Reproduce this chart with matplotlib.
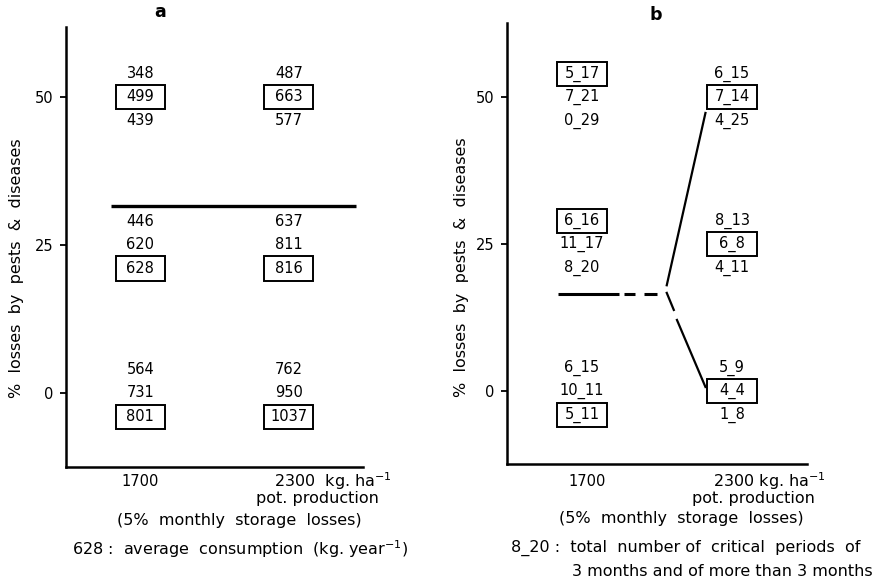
import numpy as np
import matplotlib.pyplot as plt
from matplotlib.patches import Rectangle

plt.rcParams['font.family'] = 'DejaVu Sans'

W, H = 888, 584

# column positions (1700 and 2300 kg/ha) and the three loss levels
cols = [0, 1]
levels = [50, 25, 0]
step = 4.0   # spacing between the three rows of a group

# panel a: average consumption, rows top/middle/bottom per loss level
a_1700 = [[348, 499, 439], [446, 620, 628], [564, 731, 801]]
a_2300 = [[487, 663, 577], [637, 811, 816], [762, 950, 1037]]
a_box_1700 = [1, 2, 2]
a_box_2300 = [1, 2, 2]
a_line_x = [-0.2, 1.45]
a_line_y = [31.6, 31.6]

# panel b: critical periods (3 months _ more than 3 months)
b_1700 = [["5_17", "7_21", "0_29"], ["6_16", "11_17", "8_20"], ["6_15", "10_11", "5_11"]]
b_2300 = [["6_15", "7_14", "4_25"], ["8_13", "6_8", "4_11"], ["5_9", "4_4", "1_8"]]
b_box_1700 = [0, 0, 2]
b_box_2300 = [1, 1, 1]

# boundary line in b
b_solid_x = [-0.16, 0.245]
b_solid_y = [16.5, 16.5]
b_dashes = [([0.28, 0.35], [16.5, 16.5]), ([0.415, 0.50], [16.5, 16.5])]
b_up_x = [0.565, 0.823]
b_up_y = [18.0, 47.3]
b_down = [([0.565, 0.612], [16.7, 13.8]), ([0.633, 0.823], [12.1, 0.7])]

fig = plt.figure(figsize=(W / 100, H / 100), dpi=100)
fig.patch.set_facecolor('white')


def px(x, y):
    return x / W, 1 - y / H


def axes_px(l, t, r, b):
    return fig.add_axes([l / W, 1 - b / H, (r - l) / W, (b - t) / H])


def ftext(x, y, s, **kw):
    fx, fy = px(x, y)
    kw.setdefault('va', 'center')
    kw.setdefault('fontsize', 10)
    fig.text(fx, fy, s, **kw)


def style(ax, ylim):
    ax.set_xlim(-0.5, 1.5)
    ax.set_ylim(*ylim)
    for s in ['top', 'right']:
        ax.spines[s].set_visible(False)
    for s in ['left', 'bottom']:
        ax.spines[s].set_linewidth(1.8)
    ax.set_xticks([])
    ax.set_yticks(levels)
    ax.set_yticklabels([str(v) for v in levels])
    ax.tick_params(axis='y', direction='out', length=4, width=1.3,
                   pad=5, labelsize=10.5)


def column(ax, x, groups, boxed):
    for g, lev in enumerate(levels):
        rows = [lev + step, lev, lev - step]
        for i, (val, yy) in enumerate(zip(groups[g], rows)):
            ax.text(x, yy, str(val), ha='center', va='center', fontsize=10.5)
            if i == boxed[g]:
                ax.add_patch(Rectangle((x - 0.165, yy - 2.05), 0.33, 4.1,
                                       fill=False, lw=1.4, ec='black'))


# panel a
ax1 = axes_px(66, 27, 363, 467)
style(ax1, (-12.5, 61.8))
column(ax1, cols[0], a_1700, a_box_1700)
column(ax1, cols[1], a_2300, a_box_2300)
ax1.plot(a_line_x, a_line_y, color='black', lw=2.4, solid_capstyle='butt')

# panel b
ax2 = axes_px(507, 23, 807, 464)
style(ax2, (-12.4, 62.6))
column(ax2, cols[0], b_1700, b_box_1700)
column(ax2, cols[1], b_2300, b_box_2300)
ax2.plot(b_solid_x, b_solid_y, color='black', lw=2.2, solid_capstyle='butt')
for dx, dy in b_dashes:
    ax2.plot(dx, dy, color='black', lw=2.2, solid_capstyle='butt')
ax2.plot(b_up_x, b_up_y, color='black', lw=1.6)
for dx, dy in b_down:
    ax2.plot(dx, dy, color='black', lw=1.6)

# titles
ftext(160, 12, 'a', ha='center', fontsize=12.5, fontweight='bold')
ftext(656, 15, 'b', ha='center', fontsize=12.5, fontweight='bold')

# y labels
ylab = '%  losses  by  pests  &  diseases'
ftext(17, 268, ylab, ha='center', rotation=90, fontsize=11.5)
ftext(461, 267, ylab, ha='center', rotation=90, fontsize=11.5)

fs = 11.5
# x labels, panel a
ftext(140, 481, '1700', ha='center', fontsize=10.5)
ftext(274, 481, '2300  kg. ha$^{-1}$', ha='left', fontsize=fs)
ftext(317, 499, 'pot. production', ha='center', fontsize=fs)
ftext(239, 520, '(5%  monthly  storage  losses)', ha='center', fontsize=fs)
ftext(240, 549, '628 :  average  consumption  (kg. year$^{-1}$)', ha='center', fontsize=fs)

# x labels, panel b
ftext(587, 481, '1700', ha='center', fontsize=10.5)
ftext(713, 481, '2300 kg. ha$^{-1}$', ha='left', fontsize=fs)
ftext(753, 498, 'pot. production', ha='center', fontsize=fs)
ftext(681, 519, '(5%  monthly  storage  losses)', ha='center', fontsize=fs)
ftext(511, 548, '8_20 :  total  number of  critical  periods  of', ha='left', fontsize=fs)
ftext(572, 572, '3 months and of more than 3 months', ha='left', fontsize=fs)

fig.savefig('out.png', dpi=100, facecolor='white')
